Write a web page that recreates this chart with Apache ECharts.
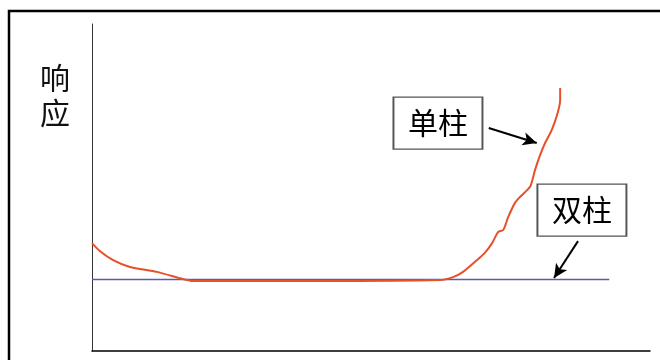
<!DOCTYPE html>
<html>
<head>
<meta charset="utf-8">
<script src="https://cdn.jsdelivr.net/npm/echarts@6/dist/echarts.min.js"></script>
<style>html,body{margin:0;padding:0;background:#fff;}#c{width:660px;height:360px;}</style>
</head>
<body>
<div id="c"></div>
<script>
// Single column response curve (x, y) in arbitrary units
const singleX = [0, 1.4, 3.8, 6.8, 11.6, 16.3, 18.1, 37.3, 62.4, 64.7, 66.5, 69.0, 70.4, 71.7, 72.8, 73.7, 74.6, 75.8, 76.7, 78.5, 79.4, 80.3, 81.2, 82.4, 83.5, 83.9, 83.9];
const singleY = [33.0, 30.6, 27.8, 25.7, 24.2, 22.0, 21.4, 21.4, 21.7, 22.6, 24.2, 27.8, 30.0, 33.0, 36.4, 37.0, 41.0, 45.3, 47.1, 50.2, 55.4, 59.9, 63.6, 67.6, 73.1, 76.8, 80.4];
// Double column response: flat
const doubleX = [0, 92.7];
const doubleY = [21.9, 21.9];
// Annotation labels and arrows (data units)
const labelNames = ['单柱', '双柱'];
const labelPos = [[62.0, 69.7], [87.8, 43.1]];
const arrowFrom = [[71.1, 68.2], [87.1, 33.6]];
const arrowTo = [[79.7, 63.6], [82.8, 22.3]];
const yName = '响应';

const chart = echarts.init(document.getElementById('c'), null, {renderer: 'canvas'});
const cjk = '"Noto Sans CJK SC", sans-serif';
chart.setOption({
  animation: false,
  backgroundColor: '#fff',
  grid: {left: 92, right: 10, top: 24, bottom: 9, containLabel: false},
  xAxis: {
    type: 'value', min: 0, max: 100,
    axisLine: {show: true, lineStyle: {color: '#000', width: 1.5}},
    axisTick: {show: false}, axisLabel: {show: false}, splitLine: {show: false}
  },
  yAxis: {
    type: 'value', min: 0, max: 100,
    axisLine: {show: true, lineStyle: {color: '#333', width: 1}},
    axisTick: {show: false}, axisLabel: {show: false}, splitLine: {show: false}
  },
  graphic: [
    {type: 'rect', shape: {x: 9, y: 11, width: 700, height: 400}, style: {fill: 'none', stroke: '#000', lineWidth: 2.5}, silent: true, z: 100},
    {type: 'text', left: 40, top: 60, style: {text: yName.split('').join('\n'), font: '30px ' + cjk, fill: '#111', lineHeight: 35}}
  ],
  series: [
    {
      type: 'line', name: '双柱',
      data: doubleX.map((x, i) => [x, doubleY[i]]),
      showSymbol: false, symbol: 'none',
      lineStyle: {color: '#5a5ab4', width: 1.5},
      z: 2
    },
    {
      type: 'line', name: '单柱',
      data: singleX.map((x, i) => [x, singleY[i]]),
      showSymbol: false, symbol: 'none', smooth: 0.25,
      lineStyle: {color: '#e8502a', width: 2},
      z: 3,
      markPoint: {
        symbol: 'rect',
        symbolSize: [89, 52],
        itemStyle: {color: '#fff', borderColor: '#555', borderWidth: 1.5},
        label: {show: true, position: 'inside', color: '#000', fontSize: 30, fontFamily: cjk, formatter: p => p.name},
        data: labelNames.map((n, i) => ({name: n, coord: labelPos[i]}))
      },
      markLine: {
        silent: true,
        symbol: ['none', 'arrow'],
        symbolSize: [10, 14],
        label: {show: false},
        lineStyle: {color: '#000', width: 2, type: 'solid'},
        data: arrowFrom.map((f, i) => [{coord: f}, {coord: arrowTo[i]}])
      }
    }
  ]
});
</script>
</body>
</html>
